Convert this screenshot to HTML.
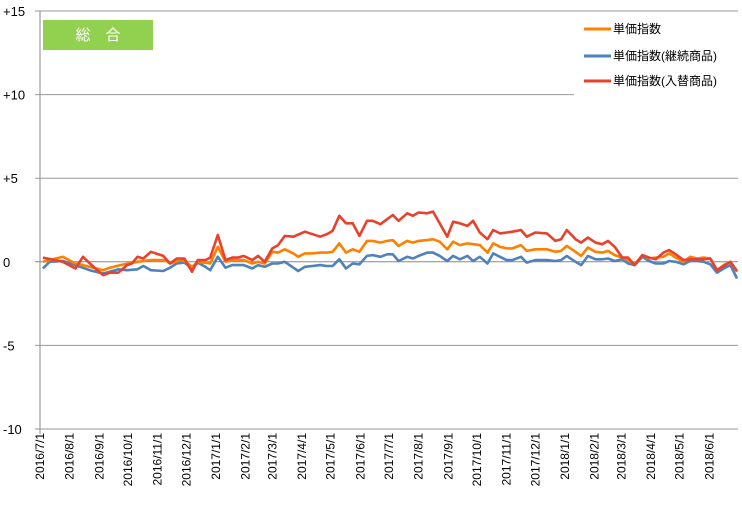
<!DOCTYPE html>
<html><head><meta charset="utf-8"><style>
body{margin:0;background:#fff}
svg{display:block;font-family:"Liberation Sans","Noto Sans CJK JP",sans-serif}
</style></head><body>
<svg id="chart" width="742" height="509" viewBox="0 0 742 509" xmlns="http://www.w3.org/2000/svg">
<g id="grid"></g>
<g id="yaxis"></g>
<g id="xaxis"></g>
<g id="series"></g>
<g>
<rect x="43" y="20" width="110" height="30" fill="#92d050"/>
<text x="98" y="40" fill="#fff" font-size="15" text-anchor="middle">総　合</text>
</g>
<g>
<rect x="574" y="14" width="164" height="84" fill="#fff"/>
<g><line x1="584" y1="29" x2="611" y2="29" stroke="#ff8000" stroke-width="3"/><text x="613" y="33" font-size="12">単価指数</text></g>
<g><line x1="584" y1="56" x2="611" y2="56" stroke="#4f81bd" stroke-width="3"/><text x="613" y="60" font-size="12">単価指数(継続商品)</text></g>
<g><line x1="584" y1="81" x2="611" y2="81" stroke="#e8412c" stroke-width="3"/><text x="613" y="85" font-size="12">単価指数(入替商品)</text></g>
</g>
</svg>
<script>
const yTicks=[15,10,5,0,-5,-10];
const yTickLabels=["+15","+10","+5","0","-5","-10"];
const monthDays=[0,31,62,92,123,153,184,215,243,274,304,335,365,396,427,457,488,518,549,580,608,639,669,700];
const monthLabels=["2016/7/1","2016/8/1","2016/9/1","2016/10/1","2016/11/1","2016/12/1","2017/1/1","2017/2/1","2017/3/1","2017/4/1","2017/5/1","2017/6/1","2017/7/1","2017/8/1","2017/9/1","2017/10/1","2017/11/1","2017/12/1","2018/1/1","2018/2/1","2018/3/1","2018/4/1","2018/5/1","2018/6/1"];
const redDays=[3,24,37,45,54,66,73,82,91,96,102,108,116,129,136,143,151,159,165,173,178,186,194,201,207,213,222,228,235,243,249,256,265,277,285,293,300,306,313,320,327,334,342,348,356,363,369,375,384,390,396,405,411,426,432,439,447,453,460,468,474,481,488,494,503,509,518,530,539,545,551,560,566,573,581,588,594,601,609,615,622,630,637,644,652,658,665,673,680,687,694,701,708,715,722,729];
const redVals=[0.25,0,-0.4,0.3,-0.2,-0.8,-0.65,-0.65,-0.2,-0.1,0.3,0.2,0.6,0.35,-0.1,0.2,0.2,-0.6,0.1,0.1,0.25,1.6,0.1,0.25,0.25,0.35,0.1,0.35,0,0.8,1.0,1.55,1.5,1.8,1.65,1.5,1.65,1.85,2.75,2.3,2.3,1.55,2.45,2.45,2.25,2.55,2.8,2.45,2.9,2.75,2.95,2.9,3.0,1.5,2.4,2.3,2.15,2.45,1.75,1.35,1.9,1.7,1.75,1.8,1.9,1.5,1.75,1.7,1.25,1.35,1.9,1.35,1.15,1.45,1.15,1.05,1.25,0.9,0.25,0.25,-0.2,0.4,0.25,0.15,0.55,0.7,0.45,0.1,0.15,0.15,0.15,0.2,-0.5,-0.25,0,-0.55];
const orangeDays=[3,24,37,52,66,73,84,102,116,131,136,147,151,159,165,178,186,194,201,213,222,228,235,243,249,256,265,270,277,285,293,300,306,313,320,327,334,342,348,356,363,369,375,384,390,396,405,411,418,426,432,439,447,453,460,468,474,481,488,494,503,509,518,530,539,545,551,560,566,573,581,588,594,601,609,615,622,630,637,644,652,658,665,673,680,687,694,701,708,715,722,729];
const orangeVals=[0,0.3,-0.1,-0.3,-0.5,-0.35,-0.2,0,0.1,0.1,-0.1,0.1,0.05,-0.3,0,-0.1,0.9,0,0.1,0.1,-0.1,0,-0.1,0.6,0.55,0.75,0.5,0.3,0.5,0.5,0.55,0.55,0.6,1.1,0.55,0.75,0.6,1.25,1.25,1.15,1.25,1.3,0.95,1.25,1.15,1.25,1.3,1.35,1.2,0.75,1.2,1.0,1.1,1.05,1.0,0.55,1.1,0.9,0.8,0.8,1.0,0.65,0.75,0.75,0.6,0.65,0.95,0.6,0.35,0.85,0.6,0.55,0.65,0.4,0.25,0.1,-0.15,0.4,0.2,0.25,0.3,0.5,0.25,0,0.3,0.2,0.25,0.2,-0.5,-0.2,0,-0.6];
const blueDays=[3,10,24,37,52,66,73,82,91,102,108,116,129,136,143,151,159,165,173,178,186,194,201,213,222,228,235,243,249,256,265,270,277,285,293,300,306,313,320,327,334,342,348,356,363,369,375,384,390,396,405,411,418,426,432,439,447,453,460,468,474,481,488,494,503,509,518,530,539,545,551,560,566,573,581,588,594,601,609,615,622,630,637,644,652,658,665,673,680,687,694,701,708,715,722,729];
const blueVals=[-0.4,0,0.05,-0.2,-0.5,-0.7,-0.6,-0.45,-0.5,-0.45,-0.25,-0.5,-0.55,-0.35,-0.1,-0.05,-0.4,-0.05,-0.3,-0.5,0.3,-0.35,-0.2,-0.2,-0.4,-0.2,-0.3,-0.1,-0.1,0,-0.35,-0.55,-0.3,-0.25,-0.2,-0.25,-0.25,0.15,-0.4,-0.1,-0.15,0.35,0.4,0.3,0.45,0.45,0.05,0.3,0.2,0.35,0.55,0.55,0.35,0.05,0.35,0.15,0.35,0.05,0.3,-0.1,0.5,0.3,0.1,0.1,0.3,-0.05,0.1,0.1,0.05,0.1,0.35,0,-0.2,0.35,0.15,0.15,0.2,0.05,0.15,-0.1,-0.2,0.3,0.05,-0.1,-0.1,0.05,0,-0.15,0.05,0.05,0,-0.15,-0.65,-0.4,-0.2,-1.0];

const NS="http://www.w3.org/2000/svg";
const X0=40,X1=738,Y0=429,Y1=11;
function xs(d){return X0+d*(X1-X0)/730;}
function ys(v){return Y0-(v+10)*(Y0-Y1)/25;}
function mk(tag,attrs,parent){const e=document.createElementNS(NS,tag);for(const k in attrs)e.setAttribute(k,attrs[k]);parent.appendChild(e);return e;}
const grid=document.getElementById('grid'),yax=document.getElementById('yaxis'),xax=document.getElementById('xaxis'),ser=document.getElementById('series');
yTicks.forEach((t,i)=>{
  const l=mk('line',{x1:35,x2:X1,y1:ys(t),y2:ys(t),stroke:t===0?'#888':'#999','stroke-width':1},grid);
  
  
  const tx=mk('text',{x:3,y:ys(t)+5,'font-size':13},yax);
  tx.textContent=yTickLabels[i];
  
  
});
const ax=mk('line',{x1:X0,x2:X0,y1:Y1,y2:Y0+5,stroke:'#888'},yax);


monthDays.forEach((d,i)=>{
  const x=xs(d)+4;
  const tx=mk('text',{x:0,y:0,'font-size':12,'text-anchor':'end',transform:'translate('+x+',433) rotate(-90)'},xax);
  tx.textContent=monthLabels[i];
  
  
});
function line(days,vals,color,name){
  const p=mk('polyline',{points:days.map((d,i)=>xs(d).toFixed(1)+','+ys(vals[i]).toFixed(1)).join(' '),fill:'none',stroke:color,'stroke-width':2.6,'stroke-linejoin':'round'},ser);
  
  
}
line(blueDays,blueVals,'#4f81bd','series-continuing');
line(orangeDays,orangeVals,'#ff8000','series-unit-index');
line(redDays,redVals,'#e8412c','series-replacement');
</script>
</body></html>
